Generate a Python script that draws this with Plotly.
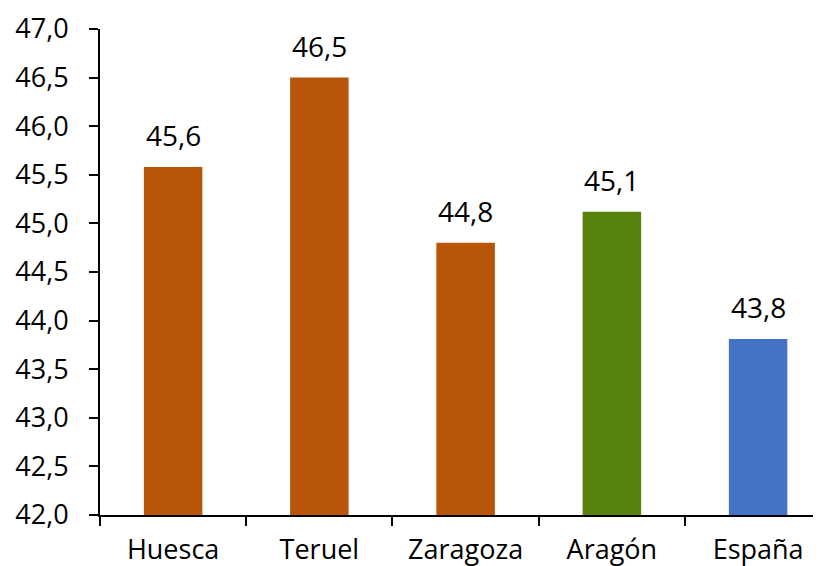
import plotly.graph_objects as go

categories = ["Huesca", "Teruel", "Zaragoza", "Aragón", "España"]
values = [45.58, 46.50, 44.80, 45.12, 43.81]
labels = ["45,6", "46,5", "44,8", "45,1", "43,8"]
colors = ["#B85508", "#B85508", "#B85508", "#58820F", "#4472C4"]
base_value = 42.0
yticks = [42.0, 42.5, 43.0, 43.5, 44.0, 44.5, 45.0, 45.5, 46.0, 46.5, 47.0]
yticklabels = ["42,0", "42,5", "43,0", "43,5", "44,0", "44,5", "45,0", "45,5", "46,0", "46,5", "47,0"]

FONT = "Open Sans"

fig = go.Figure()
fig.add_trace(go.Bar(
    x=categories, y=[v - base_value for v in values], base=base_value,
    marker=dict(color=colors, line=dict(width=0)),
    width=0.4,
    hoverinfo="skip",
))

for c, v, t in zip(categories, values, labels):
    fig.add_annotation(x=c, y=v, text=t, showarrow=False, yanchor="bottom",
                       yshift=11, font=dict(family=FONT, size=28, color="#000000"))

# page body has an 8px margin, so the figure starts at (8, 8)
fig.update_layout(
    width=813, height=558,
    margin=dict(l=92, r=0, t=21, b=51),
    paper_bgcolor="white", plot_bgcolor="white",
    showlegend=False,
    font=dict(family=FONT, color="#000000"),
    bargap=0.6,
)
fig.update_xaxes(
    range=[-0.5, 4.43], showline=True, linecolor="#000000", linewidth=2,
    ticks="outside", ticklen=9, tickwidth=2, tickcolor="#000000",
    tickson="boundaries", showgrid=False, zeroline=False,
    tickfont=dict(family=FONT, size=27, color="#000000"),
    ticklabelstandoff=10, automargin=False,
)
fig.update_yaxes(
    range=[42, 47], tickvals=yticks, ticktext=yticklabels,
    showline=True, linecolor="#000000", linewidth=2,
    ticks="outside", ticklen=9, tickwidth=2, tickcolor="#000000",
    showgrid=False, zeroline=False,
    tickfont=dict(family=FONT, size=27, color="#000000"),
    ticklabelstandoff=15, automargin=False,
)

fig.write_html("out.html")
